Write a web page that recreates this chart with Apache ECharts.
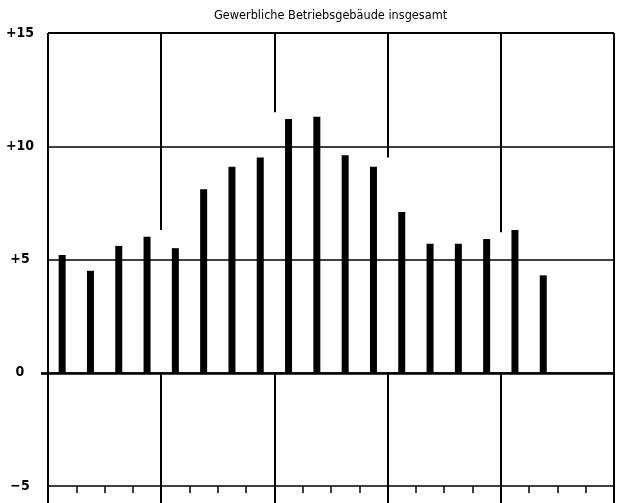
<!DOCTYPE html>
<html>
<head>
<meta charset="utf-8">
<script src="https://cdn.jsdelivr.net/npm/echarts@6/dist/echarts.min.js"></script>
<style>html,body{margin:0;padding:0;background:#fff}#c{width:618px;height:503px}</style>
</head>
<body>
<div id="c"></div>
<script>
const titleText = 'Gewerbliche Betriebsgebäude insgesamt';
const quarters = ['J1 I','J1 II','J1 III','J1 IV','J2 I','J2 II','J2 III','J2 IV','J3 I','J3 II','J3 III','J3 IV','J4 I','J4 II','J4 III','J4 IV','J5 I','J5 II','J5 III','J5 IV'];
const values = [5.2, 4.5, 5.6, 6.0, 5.5, 8.1, 9.1, 9.5, 11.2, 11.3, 9.6, 9.1, 7.1, 5.7, 5.7, 5.9, 6.3, 4.3, null, null];
const yTicks = [-5, 0, 5, 10, 15];
const yTickLabels = ['\u22125', '0', '+5', '+10', '+15'];
// year-boundary positions (in quarters) and where their upper segments stop
const yearBounds = [0, 4, 8, 12, 16, 20];
const upperStops = [-5, 6.3, 11.5, 9.5, 6.2, -5];

const FONT = '"Liberation Sans Narrow", "DejaVu Sans Condensed", sans-serif';
const chart = echarts.init(document.getElementById('c'), null, {renderer: 'canvas'});

const vLines = [];
yearBounds.forEach((b, i) => {
  vLines.push([{coord: [b, -5]}, {coord: [b, 0]}]);
  vLines.push([{coord: [b, upperStops[i]]}, {coord: [b, 15]}]);
});

chart.setOption({
  animation: false,
  title: {
    text: titleText, left: 214, top: 9, padding: 0,
    textStyle: {fontFamily: FONT, fontSize: 12.6, fontWeight: 'normal', color: '#000'}
  },
  grid: {left: 48, right: 4, top: 33, bottom: 17},
  xAxis: [
    {
      type: 'category', data: quarters, boundaryGap: true, position: 'bottom',
      axisLine: {show: false, onZero: false},
      axisTick: {show: true, interval: 0, length: 7, lineStyle: {color: '#000', width: 1.5}},
      axisLabel: {show: false, interval: 0}, splitLine: {show: false}
    },
    {
      type: 'value', min: 0, max: 20, interval: 4, position: 'bottom',
      axisLine: {show: false, onZero: false},
      axisTick: {show: true, length: 17, lineStyle: {color: '#000', width: 2}},
      axisLabel: {show: false}, splitLine: {show: false}
    }
  ],
  yAxis: [
    {
      type: 'value', min: -5, max: 15, interval: 5,
      axisLine: {show: false},
      axisTick: {show: false},
      axisLabel: {
        fontFamily: FONT, fontSize: 14, fontWeight: 'bold', color: '#000',
        align: 'center', margin: 28,
        formatter: v => yTickLabels[yTicks.indexOf(v)]
      },
      splitLine: {show: true, lineStyle: {color: '#000', width: 1.5}}
    },
    {
      type: 'value', min: -5, max: 15, position: 'left',
      axisLine: {show: false},
      axisTick: {show: true, customValues: [0], length: 7, lineStyle: {color: '#000', width: 2.7}},
      axisLabel: {show: false}, splitLine: {show: false}
    }
  ],
  series: [
    {
      type: 'bar', data: values, xAxisIndex: 0, yAxisIndex: 0, barWidth: 7,
      itemStyle: {color: '#000'}
    },
    {
      type: 'line', data: [], xAxisIndex: 1, yAxisIndex: 0, silent: true, symbol: 'none',
      markLine: {
        silent: true, symbol: ['none', 'none'], label: {show: false},
        lineStyle: {color: '#000', width: 2, type: 'solid'},
        data: vLines.concat([
          [{coord: [0, 0], lineStyle: {width: 2.7}}, {coord: [20, 0]}],
          [{coord: [0, 15]}, {coord: [20, 15]}]
        ])
      }
    }
  ]
});
</script>
</body>
</html>
